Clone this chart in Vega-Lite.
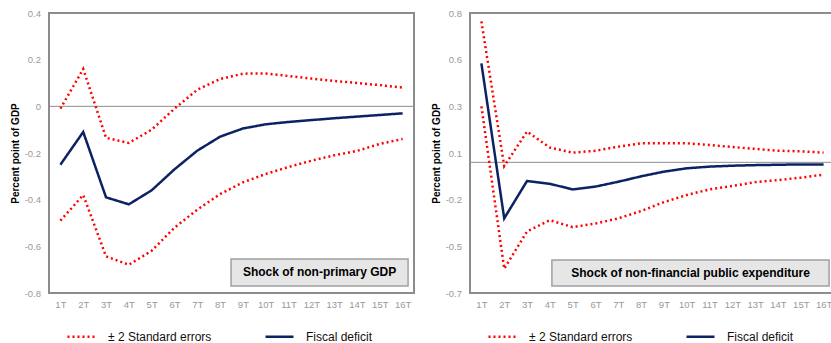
{
  "$schema": "https://vega.github.io/schema/vega-lite/v6.json",
  "padding": {"left": 9, "top": 7, "right": 0, "bottom": 0},
  "config": {
    "font": "Liberation Sans",
    "view": {"stroke": "#8c8c8c", "strokeWidth": 2},
    "axis": {"grid": false, "ticks": false, "domain": false, "labelColor": "#999999", "labelFontSize": 9.5, "labelOverlap": false, "titleColor": "#000000", "titleFontSize": 10, "titleFontWeight": "bold"},
    "legend": {"labelFontSize": 12, "labelColor": "#111111", "symbolType": "stroke", "symbolSize": 784, "symbolStrokeWidth": 2.5, "labelOffset": 11, "columnPadding": 48}
  },
  "datasets": {
    "gdp": [
      {"t": "1T", "line": "fd", "series": "Fiscal deficit", "v": -0.25},
      {"t": "2T", "line": "fd", "series": "Fiscal deficit", "v": -0.11},
      {"t": "3T", "line": "fd", "series": "Fiscal deficit", "v": -0.39},
      {"t": "4T", "line": "fd", "series": "Fiscal deficit", "v": -0.42},
      {"t": "5T", "line": "fd", "series": "Fiscal deficit", "v": -0.36},
      {"t": "6T", "line": "fd", "series": "Fiscal deficit", "v": -0.27},
      {"t": "7T", "line": "fd", "series": "Fiscal deficit", "v": -0.19},
      {"t": "8T", "line": "fd", "series": "Fiscal deficit", "v": -0.13},
      {"t": "9T", "line": "fd", "series": "Fiscal deficit", "v": -0.095},
      {"t": "10T", "line": "fd", "series": "Fiscal deficit", "v": -0.077},
      {"t": "11T", "line": "fd", "series": "Fiscal deficit", "v": -0.067},
      {"t": "12T", "line": "fd", "series": "Fiscal deficit", "v": -0.059},
      {"t": "13T", "line": "fd", "series": "Fiscal deficit", "v": -0.051},
      {"t": "14T", "line": "fd", "series": "Fiscal deficit", "v": -0.044},
      {"t": "15T", "line": "fd", "series": "Fiscal deficit", "v": -0.037},
      {"t": "16T", "line": "fd", "series": "Fiscal deficit", "v": -0.03},
      {"t": "1T", "line": "up", "series": "± 2 Standard errors", "v": -0.01},
      {"t": "2T", "line": "up", "series": "± 2 Standard errors", "v": 0.16},
      {"t": "3T", "line": "up", "series": "± 2 Standard errors", "v": -0.135},
      {"t": "4T", "line": "up", "series": "± 2 Standard errors", "v": -0.157},
      {"t": "5T", "line": "up", "series": "± 2 Standard errors", "v": -0.1},
      {"t": "6T", "line": "up", "series": "± 2 Standard errors", "v": -0.01},
      {"t": "7T", "line": "up", "series": "± 2 Standard errors", "v": 0.071},
      {"t": "8T", "line": "up", "series": "± 2 Standard errors", "v": 0.117},
      {"t": "9T", "line": "up", "series": "± 2 Standard errors", "v": 0.14},
      {"t": "10T", "line": "up", "series": "± 2 Standard errors", "v": 0.141},
      {"t": "11T", "line": "up", "series": "± 2 Standard errors", "v": 0.13},
      {"t": "12T", "line": "up", "series": "± 2 Standard errors", "v": 0.119},
      {"t": "13T", "line": "up", "series": "± 2 Standard errors", "v": 0.109},
      {"t": "14T", "line": "up", "series": "± 2 Standard errors", "v": 0.1},
      {"t": "15T", "line": "up", "series": "± 2 Standard errors", "v": 0.091},
      {"t": "16T", "line": "up", "series": "± 2 Standard errors", "v": 0.08},
      {"t": "1T", "line": "lo", "series": "± 2 Standard errors", "v": -0.49},
      {"t": "2T", "line": "lo", "series": "± 2 Standard errors", "v": -0.38},
      {"t": "3T", "line": "lo", "series": "± 2 Standard errors", "v": -0.643},
      {"t": "4T", "line": "lo", "series": "± 2 Standard errors", "v": -0.679},
      {"t": "5T", "line": "lo", "series": "± 2 Standard errors", "v": -0.619},
      {"t": "6T", "line": "lo", "series": "± 2 Standard errors", "v": -0.52},
      {"t": "7T", "line": "lo", "series": "± 2 Standard errors", "v": -0.443},
      {"t": "8T", "line": "lo", "series": "± 2 Standard errors", "v": -0.376},
      {"t": "9T", "line": "lo", "series": "± 2 Standard errors", "v": -0.326},
      {"t": "10T", "line": "lo", "series": "± 2 Standard errors", "v": -0.29},
      {"t": "11T", "line": "lo", "series": "± 2 Standard errors", "v": -0.26},
      {"t": "12T", "line": "lo", "series": "± 2 Standard errors", "v": -0.233},
      {"t": "13T", "line": "lo", "series": "± 2 Standard errors", "v": -0.21},
      {"t": "14T", "line": "lo", "series": "± 2 Standard errors", "v": -0.191},
      {"t": "15T", "line": "lo", "series": "± 2 Standard errors", "v": -0.161},
      {"t": "16T", "line": "lo", "series": "± 2 Standard errors", "v": -0.14}
    ],
    "exp": [
      {"t": "1T", "line": "fd", "series": "Fiscal deficit", "v": 0.53},
      {"t": "2T", "line": "fd", "series": "Fiscal deficit", "v": -0.3},
      {"t": "3T", "line": "fd", "series": "Fiscal deficit", "v": -0.1},
      {"t": "4T", "line": "fd", "series": "Fiscal deficit", "v": -0.115},
      {"t": "5T", "line": "fd", "series": "Fiscal deficit", "v": -0.145},
      {"t": "6T", "line": "fd", "series": "Fiscal deficit", "v": -0.13},
      {"t": "7T", "line": "fd", "series": "Fiscal deficit", "v": -0.104},
      {"t": "8T", "line": "fd", "series": "Fiscal deficit", "v": -0.075},
      {"t": "9T", "line": "fd", "series": "Fiscal deficit", "v": -0.05},
      {"t": "10T", "line": "fd", "series": "Fiscal deficit", "v": -0.032},
      {"t": "11T", "line": "fd", "series": "Fiscal deficit", "v": -0.023},
      {"t": "12T", "line": "fd", "series": "Fiscal deficit", "v": -0.018},
      {"t": "13T", "line": "fd", "series": "Fiscal deficit", "v": -0.015},
      {"t": "14T", "line": "fd", "series": "Fiscal deficit", "v": -0.013},
      {"t": "15T", "line": "fd", "series": "Fiscal deficit", "v": -0.011},
      {"t": "16T", "line": "fd", "series": "Fiscal deficit", "v": -0.011},
      {"t": "1T", "line": "up", "series": "± 2 Standard errors", "v": 0.755},
      {"t": "2T", "line": "up", "series": "± 2 Standard errors", "v": -0.02},
      {"t": "3T", "line": "up", "series": "± 2 Standard errors", "v": 0.165},
      {"t": "4T", "line": "up", "series": "± 2 Standard errors", "v": 0.079},
      {"t": "5T", "line": "up", "series": "± 2 Standard errors", "v": 0.052},
      {"t": "6T", "line": "up", "series": "± 2 Standard errors", "v": 0.062},
      {"t": "7T", "line": "up", "series": "± 2 Standard errors", "v": 0.084},
      {"t": "8T", "line": "up", "series": "± 2 Standard errors", "v": 0.102},
      {"t": "9T", "line": "up", "series": "± 2 Standard errors", "v": 0.102},
      {"t": "10T", "line": "up", "series": "± 2 Standard errors", "v": 0.102},
      {"t": "11T", "line": "up", "series": "± 2 Standard errors", "v": 0.093},
      {"t": "12T", "line": "up", "series": "± 2 Standard errors", "v": 0.082},
      {"t": "13T", "line": "up", "series": "± 2 Standard errors", "v": 0.072},
      {"t": "14T", "line": "up", "series": "± 2 Standard errors", "v": 0.062},
      {"t": "15T", "line": "up", "series": "± 2 Standard errors", "v": 0.059},
      {"t": "16T", "line": "up", "series": "± 2 Standard errors", "v": 0.052},
      {"t": "1T", "line": "lo", "series": "± 2 Standard errors", "v": 0.3},
      {"t": "2T", "line": "lo", "series": "± 2 Standard errors", "v": -0.57},
      {"t": "3T", "line": "lo", "series": "± 2 Standard errors", "v": -0.37},
      {"t": "4T", "line": "lo", "series": "± 2 Standard errors", "v": -0.31},
      {"t": "5T", "line": "lo", "series": "± 2 Standard errors", "v": -0.347},
      {"t": "6T", "line": "lo", "series": "± 2 Standard errors", "v": -0.328},
      {"t": "7T", "line": "lo", "series": "± 2 Standard errors", "v": -0.3},
      {"t": "8T", "line": "lo", "series": "± 2 Standard errors", "v": -0.261},
      {"t": "9T", "line": "lo", "series": "± 2 Standard errors", "v": -0.213},
      {"t": "10T", "line": "lo", "series": "± 2 Standard errors", "v": -0.175},
      {"t": "11T", "line": "lo", "series": "± 2 Standard errors", "v": -0.145},
      {"t": "12T", "line": "lo", "series": "± 2 Standard errors", "v": -0.127},
      {"t": "13T", "line": "lo", "series": "± 2 Standard errors", "v": -0.106},
      {"t": "14T", "line": "lo", "series": "± 2 Standard errors", "v": -0.095},
      {"t": "15T", "line": "lo", "series": "± 2 Standard errors", "v": -0.082},
      {"t": "16T", "line": "lo", "series": "± 2 Standard errors", "v": -0.066}
    ]
  },
  "spacing": 14,
  "resolve": {"scale": {"x": "independent", "y": "independent", "color": "independent", "strokeDash": "independent"}},
  "hconcat": [
    {
      "width": 365,
      "height": 280,
      "resolve": {"scale": {"x": "independent"}},
      "layer": [
        {
          "data": {"values": [{}]},
          "layer": [
            {
              "mark": {"type": "rule", "color": "#8c8c8c", "strokeWidth": 1},
              "encoding": {"y": {"datum": 0, "type": "quantitative", "scale": {"domain": [-0.8, 0.4], "nice": false, "zero": false}}}
            },
            {
              "mark": {"type": "rect", "fill": "#e6e6e6", "stroke": "#a0a0a0", "strokeWidth": 1.5},
              "encoding": {
                "x": {"datum": 8.48, "type": "quantitative", "scale": {"domain": [0.5, 16.5], "nice": false, "zero": false}, "axis": null},
                "x2": {"datum": 16.24},
                "y": {"datum": -0.654, "type": "quantitative"},
                "y2": {"datum": -0.77}
              }
            },
            {
              "mark": {"type": "text", "fontSize": 12, "fontWeight": "bold", "color": "#000000", "align": "center", "baseline": "middle"},
              "encoding": {
                "x": {"datum": 12.36, "type": "quantitative", "axis": null},
                "y": {"datum": -0.712, "type": "quantitative"},
                "text": {"value": "Shock of non-primary GDP"}
              }
            }
          ]
        },
        {
          "data": {"name": "gdp"},
          "mark": {"type": "line", "strokeWidth": 2.5},
          "encoding": {
            "x": {"field": "t", "type": "ordinal", "sort": null, "scale": {"type": "point", "padding": 0.5},
                  "axis": {"title": null, "labelAngle": 0, "labelPadding": 6, "labelOverlap": false}},
            "y": {"field": "v", "type": "quantitative", "scale": {"domain": [-0.8, 0.4], "nice": false, "zero": false},
                  "axis": {"title": "Percent point of GDP", "values": [-0.8,-0.6,-0.4,-0.2,0,0.2,0.4], "labelExpr": "datum.value == 0 ? '0' : (datum.value < 0 ? '-' : '') + format(abs(datum.value), '.1f')", "labelPadding": 8.5, "titlePadding": 4, "labelOverlap": false, "labelFlush": false}},
            "color": {"field": "series", "type": "nominal", "scale": {"domain": ["± 2 Standard errors", "Fiscal deficit"], "range": ["#ff0000", "#0b2263"]},
                      "legend": {"title": null, "orient": "bottom", "direction": "horizontal", "offset": -5, "padding": 17}},
            "strokeDash": {"field": "series", "type": "nominal", "scale": {"domain": ["± 2 Standard errors", "Fiscal deficit"], "range": [[2, 3], [1, 0]]},
                           "legend": {"title": null, "orient": "bottom", "direction": "horizontal", "offset": -5, "padding": 17}},
            "detail": {"field": "line"}
          }
        }
      ]
    },
    {
      "width": 365,
      "height": 280,
      "resolve": {"scale": {"x": "independent"}},
      "layer": [
        {
          "data": {"values": [{}]},
          "layer": [
            {
              "mark": {"type": "rule", "color": "#8c8c8c", "strokeWidth": 1},
              "encoding": {"y": {"datum": 0, "type": "quantitative", "scale": {"domain": [-0.7, 0.8], "nice": false, "zero": false}}}
            },
            {
              "mark": {"type": "rect", "fill": "#e6e6e6", "stroke": "#a0a0a0", "strokeWidth": 1.5},
              "encoding": {
                "x": {"datum": 4.09, "type": "quantitative", "scale": {"domain": [0.5, 16.5], "nice": false, "zero": false}, "axis": null},
                "x2": {"datum": 16.24},
                "y": {"datum": -0.523, "type": "quantitative"},
                "y2": {"datum": -0.662}
              }
            },
            {
              "mark": {"type": "text", "fontSize": 12, "fontWeight": "bold", "color": "#000000", "align": "center", "baseline": "middle"},
              "encoding": {
                "x": {"datum": 10.17, "type": "quantitative", "axis": null},
                "y": {"datum": -0.592, "type": "quantitative"},
                "text": {"value": "Shock of non-financial public expenditure"}
              }
            }
          ]
        },
        {
          "data": {"name": "exp"},
          "mark": {"type": "line", "strokeWidth": 2.5},
          "encoding": {
            "x": {"field": "t", "type": "ordinal", "sort": null, "scale": {"type": "point", "padding": 0.5},
                  "axis": {"title": null, "labelAngle": 0, "labelPadding": 6, "labelOverlap": false}},
            "y": {"field": "v", "type": "quantitative", "scale": {"domain": [-0.7, 0.8], "nice": false, "zero": false},
                  "axis": {"title": "Percent point of GDP", "values": [-0.7,-0.45,-0.2,0.05,0.3,0.55,0.8], "labelExpr": "(datum.value < 0 ? '-' : '') + format(abs(datum.value), '.1f')", "labelPadding": 8.5, "titlePadding": 4, "labelOverlap": false, "labelFlush": false}},
            "color": {"field": "series", "type": "nominal", "scale": {"domain": ["± 2 Standard errors", "Fiscal deficit"], "range": ["#ff0000", "#0b2263"]},
                      "legend": {"title": null, "orient": "bottom", "direction": "horizontal", "offset": -5, "padding": 17}},
            "strokeDash": {"field": "series", "type": "nominal", "scale": {"domain": ["± 2 Standard errors", "Fiscal deficit"], "range": [[2, 3], [1, 0]]},
                           "legend": {"title": null, "orient": "bottom", "direction": "horizontal", "offset": -5, "padding": 17}},
            "detail": {"field": "line"}
          }
        }
      ]
    }
  ]
}
